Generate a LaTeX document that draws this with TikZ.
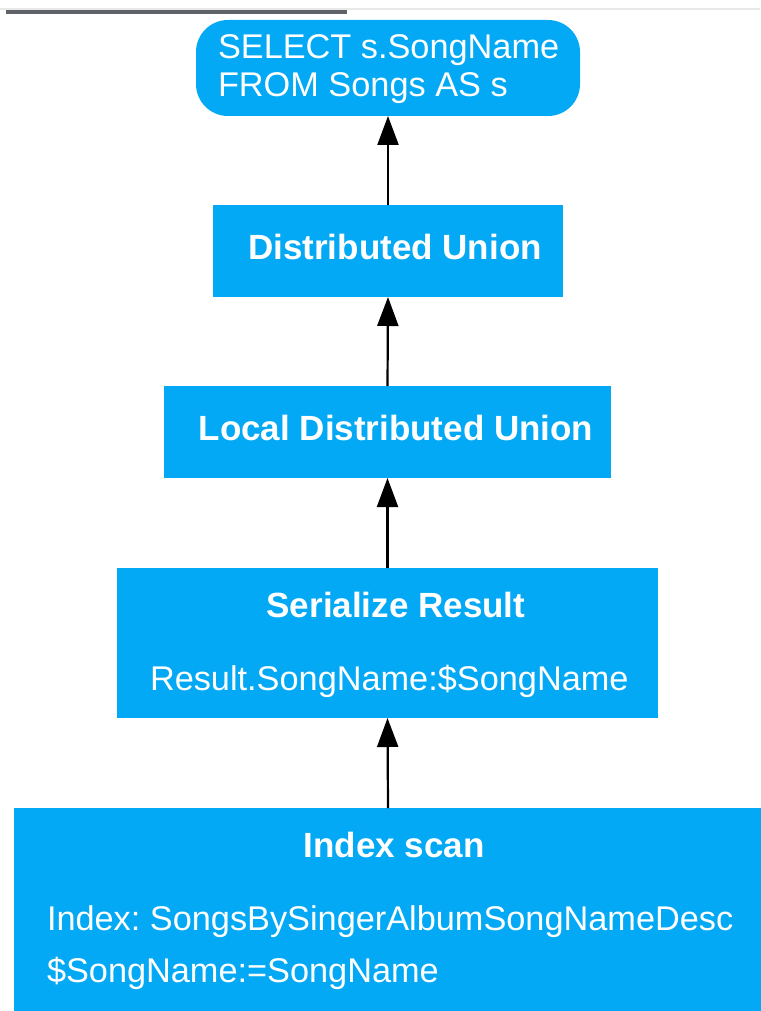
\documentclass[tikz,border=0pt]{standalone}
\usepackage{fontspec}
\setmainfont{Liberation Sans}
\usetikzlibrary{arrows.meta}
\definecolor{PlanBlue}{RGB}{3,169,244}
\definecolor{BarGray}{RGB}{95,99,104}
\definecolor{RuleGray}{RGB}{232,232,232}
\frenchspacing

\begin{document}
\begin{tikzpicture}[x=1pt, y=-1pt,
      every node/.style={inner sep=0pt, outer sep=0pt},
      opbox/.style={rectangle, fill=PlanBlue, draw=none},
      querybox/.style={opbox, rounded corners=32pt},
      optitle/.style={text=white, font=\fontsize{35}{38}\selectfont\bfseries, anchor=base},
      opdetail/.style={text=white, font=\fontsize{34.3}{38}\selectfont, anchor=base west},
      flow/.style={-{Triangle[length=29pt, width=21pt]}, line width=2.2pt, black}
    ]
      \useasboundingbox (0,0) rectangle (760,1011);
      % top rule
      \fill[RuleGray] (0,8.5) rectangle (760,10);
      \fill[BarGray] (6,10) rectangle (347,14);
      % operator boxes
      \node[querybox, minimum width=384pt, minimum height=96pt] (query) at (388,68) {};
      \node[opbox, minimum width=350pt, minimum height=92pt] (dunion) at (388,251) {};
      \node[opbox, minimum width=447pt, minimum height=92pt] (ldunion) at (387.5,432) {};
      \node[opbox, minimum width=541pt, minimum height=150pt] (serialize) at (387.5,643) {};
      \node[opbox, minimum width=748pt, minimum height=206pt] (scan) at (388,911) {};
      % texts
      \node[opdetail] (queryselect) at (218,59) {SELECT s.SongName};
      \node[opdetail] (queryfrom) at (218,97) {FROM Songs AS s};
      \node[optitle] (dunionname) at (395,259) {Distributed Union};
      \node[optitle] (ldunionname) at (396,440) {Local Distributed Union};
      \node[optitle] (serializename) at (396,617) {Serialize Result};
      \node[opdetail] (serializeout) at (150,690) {Result.SongName:\$SongName};
      \node[optitle] (scanname) at (394,857) {Index scan};
      \node[opdetail] (scanindex) at (47,930) {Index: SongsBySingerAlbumSongNameDesc};
      \node[opdetail] (scanvar) at (47,982) {\$SongName:=SongName};
      % data flow
      \draw[flow] (dunion.north) -- (query.south);
      \draw[flow] (ldunion.north) -- (dunion.south);
      \draw[flow] (serialize.north) -- (ldunion.south);
      \draw[flow] (scan.north) -- (serialize.south);
    \end{tikzpicture}
\end{document}
